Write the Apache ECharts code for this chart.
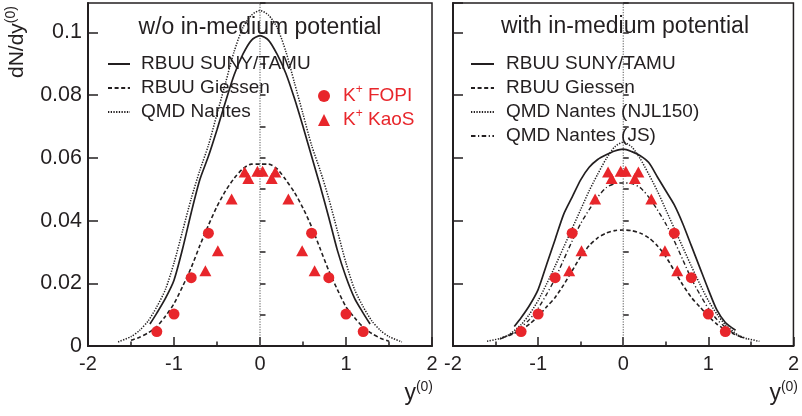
<!DOCTYPE html>
<html><head><meta charset="utf-8">
<script src="https://cdn.jsdelivr.net/npm/echarts@6/dist/echarts.min.js"></script>
<style>html,body{margin:0;padding:0;background:#fff}#c{width:802px;height:416px}</style>
</head><body><div id="c"></div>
<script>
// ---------- axis ranges / ticks ----------
const xRange = [-2, 2];
const yRange = [0, 0.1094];
const xMajor = 1, xMinorSplit = 2;
const yMajor = 0.02, yMinor = 0.01;

// ---------- experimental data (same in both panels) ----------
const fopiX = [-1.2, -1.0, -0.8, -0.6, 0.6, 0.8, 1.0, 1.2];
const fopiY = [0.0046, 0.0102, 0.0218, 0.036, 0.036, 0.0218, 0.0102, 0.0046];
const kaosX = [-0.635, -0.49, -0.33, -0.178, -0.136, -0.03, 0.03, 0.136, 0.178, 0.33, 0.49, 0.635];
const kaosY = [0.024, 0.0304, 0.0469, 0.0555, 0.0534, 0.0557, 0.0557, 0.0534, 0.0555, 0.0469, 0.0304, 0.024];

// ---------- left panel: w/o in-medium potential ----------
const tamuNoX = [-1.28, -1.2, -1.1, -1.0, -0.9, -0.8, -0.7, -0.6, -0.5, -0.4, -0.3, -0.2, -0.1, 0, 0.1, 0.2, 0.3, 0.4, 0.5, 0.6, 0.7, 0.8, 0.9, 1.0, 1.1, 1.2, 1.28];
const tamuNoY = [0.007, 0.0105, 0.0152, 0.021, 0.031, 0.0425, 0.053, 0.0605, 0.069, 0.078, 0.0865, 0.093, 0.0975, 0.099, 0.0975, 0.093, 0.087, 0.079, 0.070, 0.0605, 0.051, 0.041, 0.0305, 0.022, 0.0152, 0.0105, 0.007];
const giessenNoX = [-1.5, -1.4, -1.3, -1.2, -1.1, -1.0, -0.9, -0.8, -0.7, -0.6, -0.5, -0.4, -0.3, -0.2, -0.1, 0, 0.1, 0.2, 0.3, 0.4, 0.5, 0.6, 0.7, 0.8, 0.9, 1.0, 1.1, 1.2, 1.3, 1.4, 1.5];
const giessenNoY = [0.0018, 0.0028, 0.0042, 0.0062, 0.0095, 0.0135, 0.019, 0.025, 0.032, 0.0385, 0.0445, 0.0495, 0.0535, 0.0565, 0.058, 0.058, 0.058, 0.0565, 0.053, 0.049, 0.044, 0.038, 0.031, 0.024, 0.018, 0.0125, 0.009, 0.006, 0.004, 0.0025, 0.0015];
const qmdNoX = [-1.65, -1.5, -1.4, -1.3, -1.2, -1.1, -1.0, -0.9, -0.8, -0.7, -0.6, -0.5, -0.4, -0.3, -0.2, -0.1, 0, 0.1, 0.2, 0.3, 0.4, 0.5, 0.6, 0.7, 0.8, 0.9, 1.0, 1.1, 1.2, 1.3, 1.4, 1.5, 1.65];
const qmdNoY = [0.0013, 0.003, 0.005, 0.008, 0.0125, 0.018, 0.0265, 0.0367, 0.047, 0.056, 0.064, 0.074, 0.084, 0.094, 0.1015, 0.1055, 0.107, 0.1055, 0.1015, 0.094, 0.084, 0.074, 0.064, 0.056, 0.047, 0.0367, 0.0265, 0.018, 0.0125, 0.008, 0.005, 0.003, 0.0013];

// ---------- right panel: with in-medium potential ----------
const tamuWiX = [-1.28, -1.2, -1.1, -1.0, -0.9, -0.8, -0.7, -0.6, -0.5, -0.4, -0.3, -0.2, -0.1, 0, 0.1, 0.2, 0.3, 0.4, 0.5, 0.6, 0.7, 0.8, 0.9, 1.0, 1.1, 1.2, 1.32];
const tamuWiY = [0.0062, 0.009, 0.013, 0.018, 0.026, 0.034, 0.042, 0.0475, 0.053, 0.057, 0.0595, 0.061, 0.0622, 0.0628, 0.062, 0.0607, 0.0585, 0.054, 0.0495, 0.045, 0.039, 0.032, 0.025, 0.018, 0.0115, 0.0075, 0.005];
const giessenWiX = [-1.42, -1.3, -1.2, -1.1, -1.0, -0.9, -0.8, -0.7, -0.6, -0.5, -0.4, -0.3, -0.2, -0.1, 0, 0.1, 0.2, 0.3, 0.4, 0.5, 0.6, 0.7, 0.8, 0.9, 1.0, 1.1, 1.2, 1.3, 1.42];
const giessenWiY = [0.0026, 0.0038, 0.0052, 0.007, 0.0095, 0.0125, 0.0155, 0.0195, 0.024, 0.0285, 0.032, 0.0345, 0.036, 0.0368, 0.037, 0.0368, 0.036, 0.0345, 0.032, 0.0285, 0.024, 0.0195, 0.0155, 0.0125, 0.0095, 0.007, 0.0052, 0.0038, 0.0026];
const njlX = [-1.6, -1.45, -1.35, -1.2, -1.1, -1.0, -0.9, -0.8, -0.7, -0.6, -0.5, -0.4, -0.3, -0.2, -0.1, 0, 0.1, 0.2, 0.3, 0.4, 0.5, 0.6, 0.7, 0.8, 0.9, 1.0, 1.1, 1.2, 1.35, 1.45, 1.6];
const njlY = [0.0015, 0.0024, 0.0035, 0.0068, 0.0102, 0.0145, 0.0198, 0.0255, 0.0315, 0.0375, 0.0435, 0.0495, 0.0548, 0.0597, 0.0635, 0.065, 0.0635, 0.0597, 0.0548, 0.0495, 0.0435, 0.0375, 0.0315, 0.0255, 0.0198, 0.0145, 0.0102, 0.0068, 0.0035, 0.0024, 0.0015];
const jsX = [-1.45, -1.3, -1.2, -1.1, -1.0, -0.9, -0.8, -0.7, -0.6, -0.5, -0.4, -0.3, -0.2, -0.1, 0, 0.1, 0.2, 0.3, 0.4, 0.5, 0.6, 0.7, 0.8, 0.9, 1.0, 1.1, 1.2, 1.3, 1.45];
const jsY = [0.0022, 0.004, 0.006, 0.0085, 0.012, 0.0165, 0.0215, 0.0275, 0.0335, 0.039, 0.0435, 0.0475, 0.0505, 0.0518, 0.052, 0.0518, 0.0505, 0.0475, 0.0435, 0.039, 0.0335, 0.0275, 0.0215, 0.0165, 0.012, 0.0085, 0.006, 0.004, 0.0022];

// ---------- build ----------
const zip = (xs, ys) => xs.map((x, i) => [x, ys[i]]);
const FONT = '"Liberation Sans", Arial, Helvetica, sans-serif';
const INK = '#231f20';
const RED = '#e8262b';

const chart = echarts.init(document.getElementById('c'), null, {renderer: 'canvas'});

function xAxisCfg(gi) {
  return {
    gridIndex: gi, type: 'value', min: xRange[0], max: xRange[1], interval: xMajor,
    axisLine: {show: true, onZero: false, lineStyle: {color: INK, width: 2}},
    axisTick: {show: true, inside: true, length: 9, lineStyle: {color: INK, width: 1.5}},
    minorTick: {show: true, splitNumber: xMinorSplit, length: 4.5, lineStyle: {color: INK, width: 1.5}},
    axisLabel: {show: true, fontSize: 20, fontFamily: FONT, color: INK, margin: 8},
    splitLine: {show: false}
  };
}
function yMajorCfg(gi, labels) {
  return {
    gridIndex: gi, type: 'value', position: 'left', min: yRange[0], max: yRange[1], interval: yMajor,
    axisLine: {show: true, onZero: false, lineStyle: {color: INK, width: 2}},
    axisTick: {show: true, inside: true, length: 10, lineStyle: {color: INK, width: 1.5}},
    axisLabel: {show: labels, showMaxLabel: false, fontSize: 21.5, fontFamily: FONT, color: INK, margin: 6},
    splitLine: {show: false}
  };
}
function yMinorCfg(gi) {
  return {
    gridIndex: gi, type: 'value', position: 'left', min: yRange[0], max: yRange[1], interval: yMinor,
    axisLine: {show: false},
    axisTick: {show: true, inside: true, length: 5.5, lineStyle: {color: INK, width: 1.5}},
    axisLabel: {show: false}, splitLine: {show: false}
  };
}
function lineSeries(name, xs, ys, xi, yi, type, width) {
  return {
    name, type: 'line', xAxisIndex: xi, yAxisIndex: yi, data: zip(xs, ys),
    symbol: 'none', smooth: 0.25, clip: true,
    lineStyle: {color: INK, width: width, type: type}, itemStyle: {color: 'rgba(0,0,0,0)'}, z: 3
  };
}
function scatter(name, xs, ys, xi, yi, sym, size) {
  return {
    name, type: 'scatter', xAxisIndex: xi, yAxisIndex: yi, data: zip(xs, ys),
    symbol: sym, symbolSize: size, itemStyle: {color: RED, opacity: 1}, z: 5
  };
}
function zeroLine(xi, yi) {
  return {
    type: 'line', xAxisIndex: xi, yAxisIndex: yi, data: [[0, yRange[0]], [0, yRange[1]]],
    symbol: 'none', silent: true, z: 1,
    lineStyle: {color: '#555', width: 1, type: [1.2, 1.4]}
  };
}

const DASH = [4, 2.6], DOT = [1.3, 1.4], DASHDOT = [4.5, 2.5, 1.2, 2.5];

const legendLeft = {fontSize: 19, fontFamily: FONT, color: INK, lineHeight: 24, padding: [0, 0, 0, 6]};
const legendRight = {fontSize: 19, fontFamily: FONT, color: INK, lineHeight: 24, padding: [0, 0, 0, 7]};

const option = {
  animation: false,
  backgroundColor: '#fff',
  grid: [
    {left: 88, top: 3, width: 344, height: 343, show: true, borderColor: INK, borderWidth: 1.5, backgroundColor: 'transparent'},
    {left: 453, top: 3, width: 344, height: 343, show: true, borderColor: INK, borderWidth: 1.5, backgroundColor: 'transparent'}
  ],
  xAxis: [xAxisCfg(0), xAxisCfg(1)],
  yAxis: [yMajorCfg(0, true), yMinorCfg(0), yMajorCfg(1, false), yMinorCfg(1)],
  legend: [
    {data: ['RBUU SUNY/TAMU', 'RBUU Giessen', 'QMD Nantes'], orient: 'vertical', left: 102, top: 47,
     itemWidth: 22, itemHeight: 14, itemGap: 0, selectedMode: false, textStyle: legendLeft},
    {data: ['RBUU SUNY/TAMU', 'RBUU Giessen', 'QMD Nantes (NJL150)', 'QMD Nantes (JS)'], orient: 'vertical', left: 465, top: 47,
     itemWidth: 23, itemHeight: 14, itemGap: 0, selectedMode: false, textStyle: legendRight},
    {data: ['K+ FOPI', 'K+ KaoS'], orient: 'vertical', left: 313, top: 79,
     itemWidth: 12, itemHeight: 12, itemGap: 0, selectedMode: false,
     formatter: n => '{a|K}{s|+}{a| ' + n.slice(3) + '}',
     textStyle: {fontSize: 19, fontFamily: FONT, color: RED, lineHeight: 24, padding: [0, 0, 0, 8],
       rich: {a: {fontSize: 19, fontFamily: FONT, color: RED, lineHeight: 24},
              s: {fontSize: 12, fontFamily: FONT, color: RED, verticalAlign: 'top', lineHeight: 14}}}}
  ],
  graphic: [
    {type: 'text', x: 260, y: 28, style: {text: 'w/o in-medium potential', fontSize: 23, fontFamily: FONT, fill: INK, align: 'center', verticalAlign: 'middle'}},
    {type: 'text', x: 625, y: 27, style: {text: 'with in-medium potential', fontSize: 23, fontFamily: FONT, fill: INK, align: 'center', verticalAlign: 'middle'}},
    {type: 'text', x: 17, y: 42, rotation: Math.PI / 2,
     style: {text: '{a|dN/dy}{s|(0)}', align: 'center', verticalAlign: 'middle',
       rich: {a: {fontSize: 21, fontFamily: FONT, fill: INK, color: INK, lineHeight: 25},
              s: {fontSize: 14, fontFamily: FONT, fill: INK, color: INK, verticalAlign: 'top', lineHeight: 15}}}},
    {type: 'text', x: 433, y: 394,
     style: {text: '{a|y}{s|(0)}', align: 'right', verticalAlign: 'middle',
       rich: {a: {fontSize: 23, fontFamily: FONT, fill: INK, color: INK, lineHeight: 28},
              s: {fontSize: 14, fontFamily: FONT, fill: INK, color: INK, verticalAlign: 'top', lineHeight: 15}}}},
    {type: 'text', x: 798, y: 394,
     style: {text: '{a|y}{s|(0)}', align: 'right', verticalAlign: 'middle',
       rich: {a: {fontSize: 23, fontFamily: FONT, fill: INK, color: INK, lineHeight: 28},
              s: {fontSize: 14, fontFamily: FONT, fill: INK, color: INK, verticalAlign: 'top', lineHeight: 15}}}}
  ],
  series: [
    zeroLine(0, 0),
    lineSeries('RBUU SUNY/TAMU', tamuNoX, tamuNoY, 0, 0, 'solid', 1.7),
    lineSeries('RBUU Giessen', giessenNoX, giessenNoY, 0, 0, DASH, 1.6),
    lineSeries('QMD Nantes', qmdNoX, qmdNoY, 0, 0, DOT, 1.5),
    scatter('K+ FOPI', fopiX, fopiY, 0, 0, 'circle', 11),
    scatter('K+ KaoS', kaosX, kaosY, 0, 0, 'triangle', [12, 11]),
    zeroLine(1, 2),
    lineSeries('RBUU SUNY/TAMU', tamuWiX, tamuWiY, 1, 2, 'solid', 1.7),
    lineSeries('RBUU Giessen', giessenWiX, giessenWiY, 1, 2, DASH, 1.6),
    lineSeries('QMD Nantes (NJL150)', njlX, njlY, 1, 2, DOT, 1.5),
    lineSeries('QMD Nantes (JS)', jsX, jsY, 1, 2, DASHDOT, 1.4),
    scatter('K+ FOPI', fopiX, fopiY, 1, 2, 'circle', 11),
    scatter('K+ KaoS', kaosX, kaosY, 1, 2, 'triangle', [12, 11])
  ]
};
chart.setOption(option);
</script></body></html>
